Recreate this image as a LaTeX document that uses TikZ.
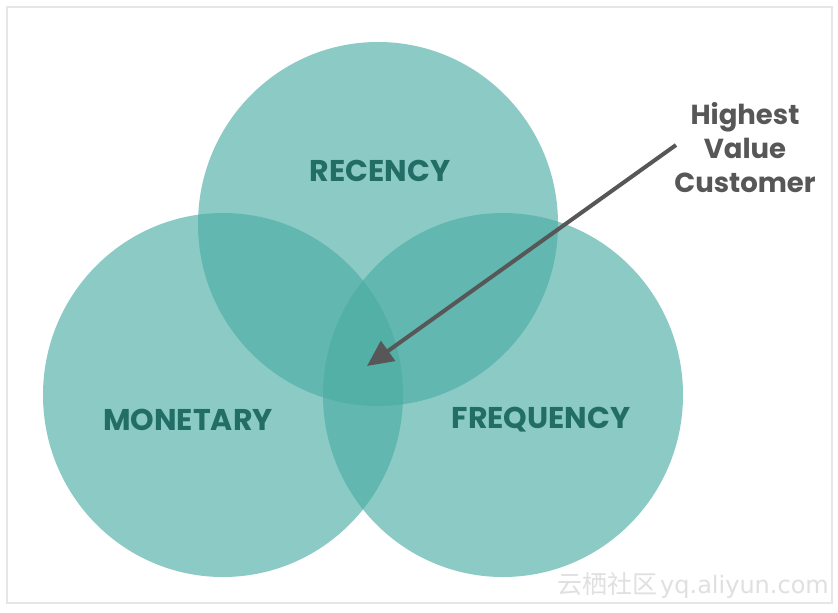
\documentclass[tikz,border=0pt]{standalone}
\usepackage{fontspec}
\setmainfont{Poppins}
\newfontfamily\cjkfont{Noto Sans CJK SC}
\newfontfamily\wmfont{DejaVu Sans}
\usetikzlibrary{arrows.meta}
\definecolor{onecol}{HTML}{8CCBC5}
\definecolor{twocol}{HTML}{62B8B0}
\definecolor{threecol}{HTML}{53B0A7}
\definecolor{labelcol}{HTML}{236D67}
\definecolor{notecol}{HTML}{575757}
\definecolor{framecol}{HTML}{E6E6E6}
\definecolor{markcol}{HTML}{E0E0E0}
\tikzset{
  setlabel/.style={font=\bfseries\fontsize{30}{32}\selectfont, text=labelcol, inner sep=0pt},
  notetext/.style={font=\bfseries\fontsize{27.5}{34}\selectfont, text=notecol, align=center, inner sep=0pt},
  pointer/.style={draw=notecol, line width=4pt, -{Triangle[length=26pt,width=24pt]}},
  watermark/.style={text=markcol, inner sep=0pt, anchor=east}
}
\def\recpath{(378,224) ellipse [x radius=180, y radius=182]}
\def\monpath{(223,395) ellipse [x radius=180, y radius=182]}
\def\frepath{(503,395) ellipse [x radius=180, y radius=182]}
\begin{document}
\begin{tikzpicture}[x=1pt,y=-1pt]
\useasboundingbox (0,0) rectangle (838,613);
\fill[white] (0,0) rectangle (838,613);
\draw[framecol, line width=2pt] (7,7) rectangle (832,603);
% circles
\fill[onecol] \recpath;
\fill[onecol] \monpath;
\fill[onecol] \frepath;
\begin{scope}
  \clip \recpath;
  \fill[twocol] \monpath;
  \fill[twocol] \frepath;
\end{scope}
\begin{scope}
  \clip \monpath;
  \fill[twocol] \frepath;
\end{scope}
\begin{scope}
  \clip \recpath;
  \clip \monpath;
  \fill[threecol] \frepath;
\end{scope}
% labels
\node[setlabel] (recency) at (380,171) {RECENCY};
\node[setlabel] (monetary) at (188,420) {MONETARY};
\node[setlabel] (frequency) at (541,420) {FREQUENCY};
\node[notetext] (note) at (745,148) {Highest\\Value\\Customer};
\coordinate (arrowstart) at (676,145);
\coordinate (arrowtip) at (367,366);
\draw[pointer] (arrowstart) -- (arrowtip);
\node[watermark] (mark) at (829,585) {{\cjkfont\fontsize{25}{25}\selectfont 云栖社区} {\wmfont\fontsize{24}{24}\selectfont yq.aliyun.com}};
\end{tikzpicture}
\end{document}
